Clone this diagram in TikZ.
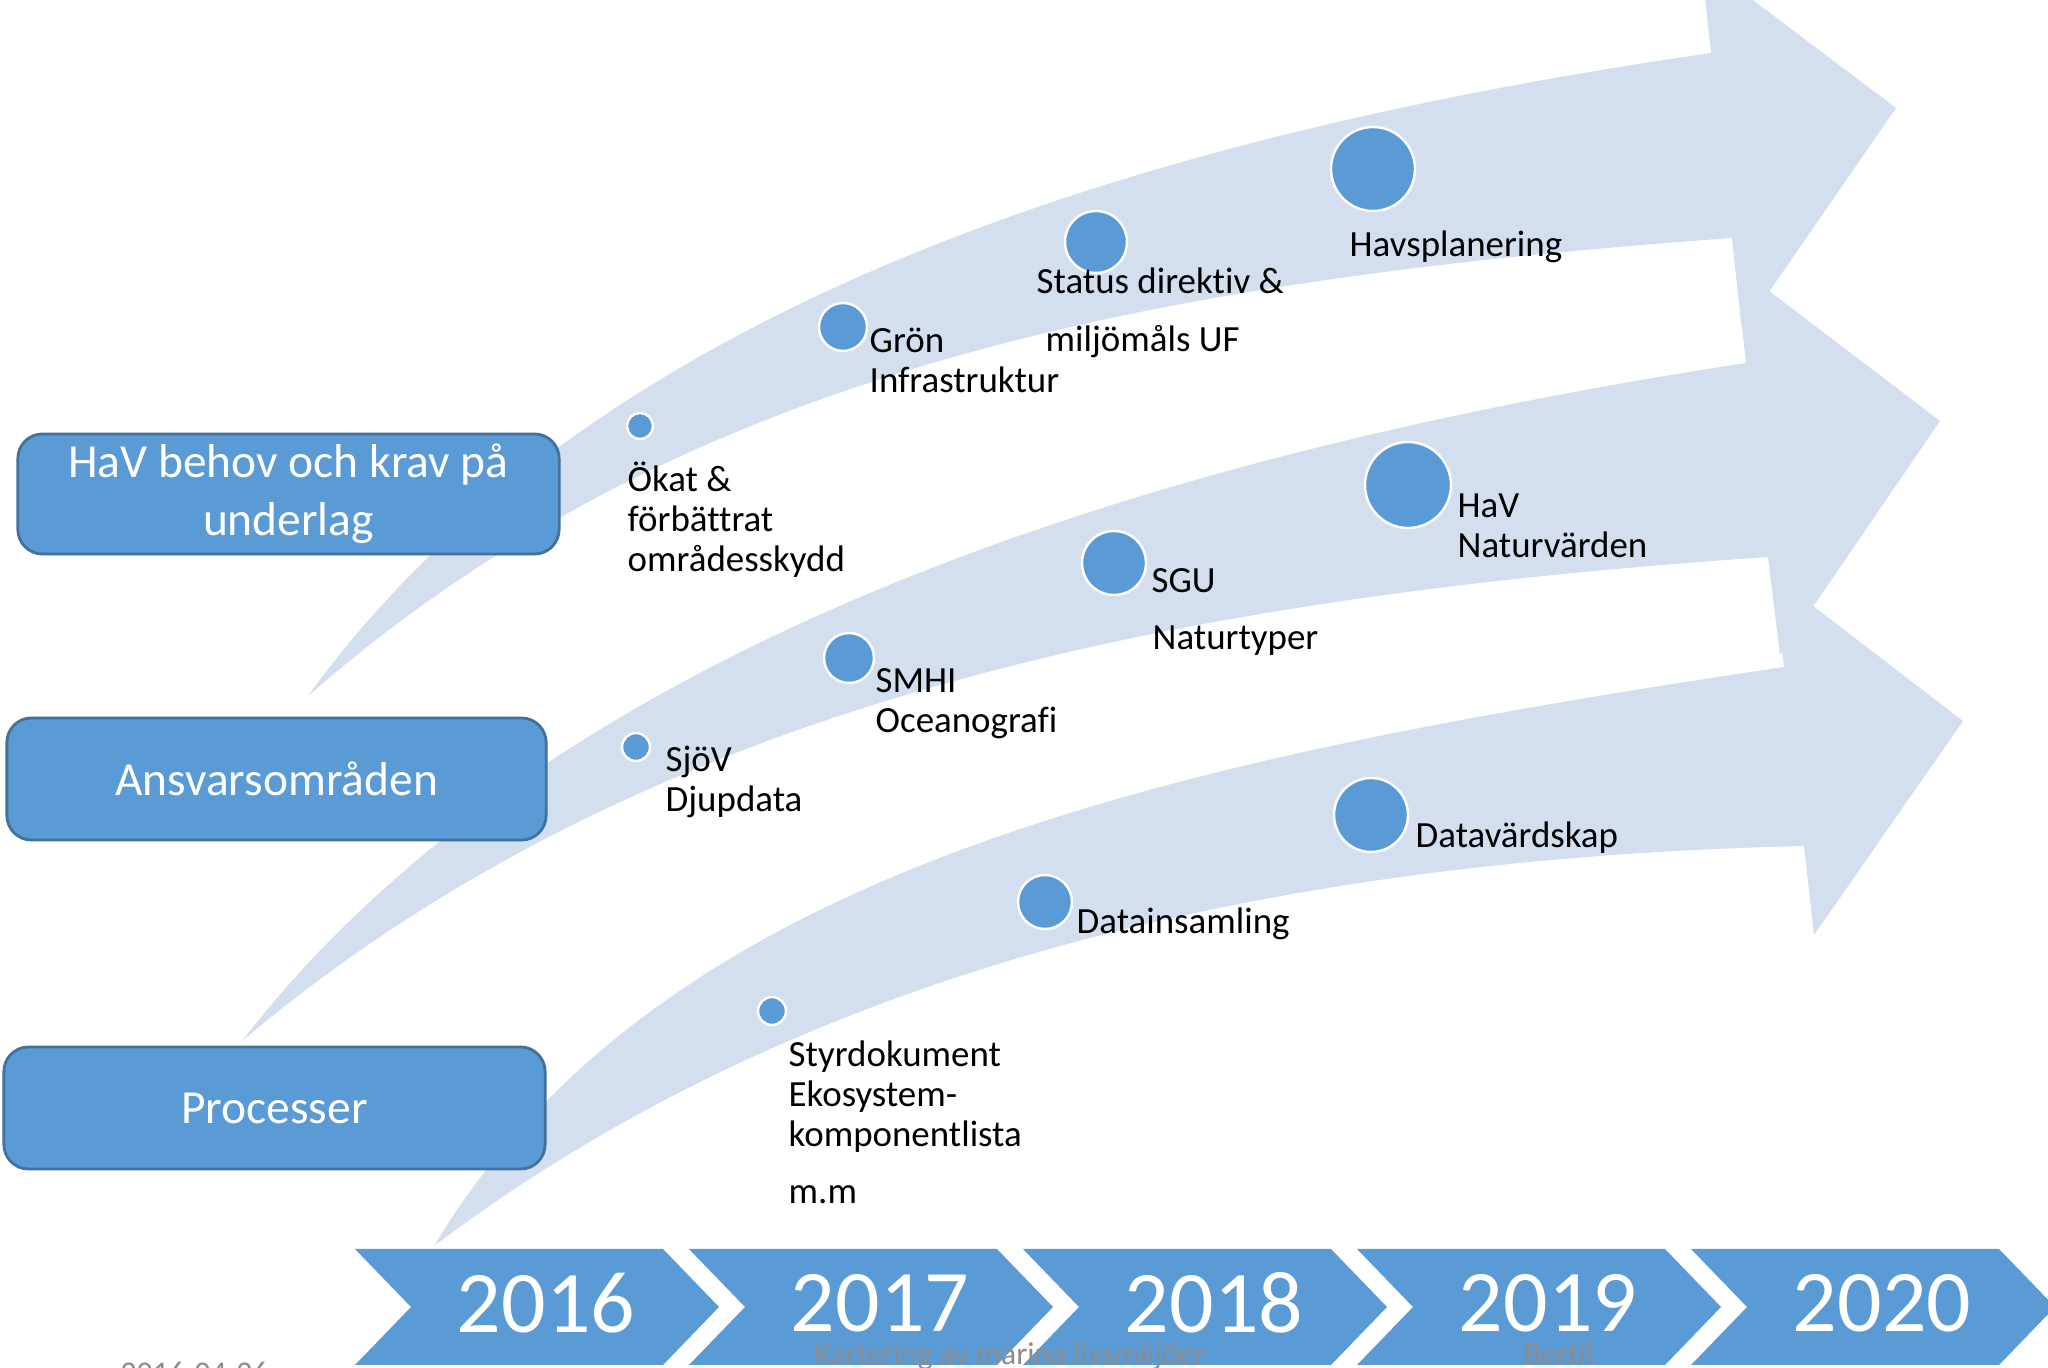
\documentclass[tikz,border=0pt]{standalone}
\usepackage{fontspec}
\setmainfont{Carlito}[Ligatures=CommonOff]
\definecolor{band}{HTML}{D3DEEF}
\definecolor{boxblue}{HTML}{5B9BD5}
\definecolor{boxedge}{HTML}{41719C}
\definecolor{foot}{HTML}{8C8C8C}
\begin{document}
\begin{tikzpicture}[x=0.01cm,y=-0.01cm,
 catbox/.style={fill=boxblue,draw=boxedge,line width=0.8pt,rounded corners=7pt,text=white,font=\fontsize{13.5}{16.5}\selectfont,align=center,inner sep=0pt},
 dot/.style={circle,fill=boxblue,draw=white,line width=0.7pt,inner sep=0pt},
 lbl/.style={anchor=base west,align=left,font=\fontsize{10.5}{11.5}\selectfont,inner sep=0pt},
 yr/.style={text=white,font=\fontsize{25}{30}\selectfont,inner sep=0pt},
 chev/.style={fill=boxblue},
 bandfill/.style={fill=band},
 ft/.style={text=foot,font=\fontsize{9}{10}\selectfont,anchor=base west,inner sep=0pt}]
\useasboundingbox (0,0) rectangle (2048,1368);

% curved arrows
\fill[bandfill] (308,696) .. controls (575,327) and (1082,144) .. (1711,53)
  -- (1701,-39) -- (1896,108) -- (1742,331) -- (1732,238)
  .. controls (1150,280) and (680,370) .. (308,696) -- cycle;
\fill[bandfill] (242,1041) .. controls (535,662) and (1097,462) .. (1746,363)
  -- (1735,265) -- (1940,421) -- (1780,655) -- (1768,557)
  .. controls (1165,598) and (640,705) .. (242,1041) -- cycle;
\fill[bandfill] (434,1246) .. controls (660,870) and (1160,760) .. (1784,667)
  -- (1774,576) -- (1963,721) -- (1814,935) -- (1804,846)
  .. controls (1200,860) and (760,1000) .. (434,1246) -- cycle;

% category boxes
\node[catbox,minimum width=5.41cm,minimum height=1.2cm] (b1) at (288.5,494) {HaV behov och krav på\\underlag};
\node[catbox,minimum width=5.39cm,minimum height=1.22cm] (b2) at (276.5,779) {Ansvarsområden};
\node[catbox,minimum width=5.41cm,minimum height=1.22cm] (b3) at (274.5,1108) {Processer};

% milestones
\node[dot,minimum size=0.26cm] (c1) at (640,426) {};
\node[dot,minimum size=0.48cm] (c2) at (843,327) {};
\node[dot,minimum size=0.62cm] (c3) at (1096,242) {};
\node[dot,minimum size=0.84cm] (c4) at (1373,169) {};
\node[dot,minimum size=0.28cm] (c5) at (636,747) {};
\node[dot,minimum size=0.50cm] (c6) at (849,658) {};
\node[dot,minimum size=0.64cm] (c7) at (1114,563) {};
\node[dot,minimum size=0.86cm] (c8) at (1408,485) {};
\node[dot,minimum size=0.28cm] (c9) at (772,1011) {};
\node[dot,minimum size=0.54cm] (c10) at (1045,902) {};
\node[dot,minimum size=0.74cm] (c11) at (1371,815) {};

% labels (base = baseline of the last line)
\node[lbl] (l1) at (627,572) {Ökat \&\\förbättrat\\områdesskydd};
\node[lbl] (l2) at (869,393) {Grön\\Infrastruktur};
\node[lbl] (l3a) at (1036,294) {Status direktiv \&};
\node[lbl] (l3b) at (1045,352) {miljömåls UF};
\node[lbl] (l4) at (1349,257) {Havsplanering};
\node[lbl] (l5) at (665,812) {SjöV\\Djupdata};
\node[lbl] (l6) at (875,733) {SMHI\\Oceanografi};
\node[lbl] (l7a) at (1151,593) {SGU};
\node[lbl] (l7b) at (1152,650) {Naturtyper};
\node[lbl] (l8) at (1457,558) {HaV\\Naturvärden};
\node[lbl] (l9) at (788,1147) {Styrdokument\\Ekosystem-\\komponentlista};
\node[lbl] (l9b) at (788,1204) {m.m};
\node[lbl] (l10) at (1076,934) {Datainsamling};
\node[lbl] (l11) at (1415,848) {Datavärdskap};

% timeline chevrons
\foreach \i/\yy in {0/2016,1/2017,2/2018,3/2019,4/2020}{
  \pgfmathsetmacro{\xo}{355+334*\i}
  \fill[chev] (\xo,1249) -- ({\xo+308},1249) -- ({\xo+364},1307) -- ({\xo+308},1365)
    -- (\xo,1365) -- ({\xo+56},1307) -- cycle;
  \node[yr] (y\yy) at ({\xo+191},1303) {\yy};
}

% footer
\node[ft] (f1) at (120,1383) {2016-04-26};
\node[ft] (f2) at (814,1365) {Kartering av marina livsmiljöer};
\node[ft] (f3) at (1523,1365) {Bertil};
\end{tikzpicture}
\end{document}
